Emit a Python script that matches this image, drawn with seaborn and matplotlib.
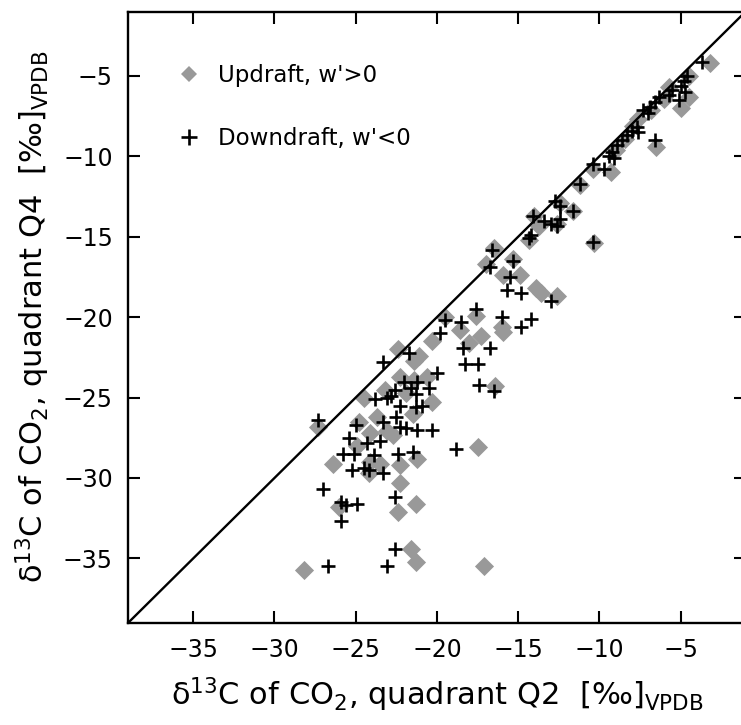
import matplotlib
matplotlib.use("Agg")
import matplotlib.pyplot as plt
import seaborn as sns
import pandas as pd
from matplotlib.lines import Line2D

# Updraft (w'>0): delta13C Q2 (x) vs Q4 (y)
up_x = [-3.2, -4.5, -4.5, -5.0, -5.7, -6.0, -6.5, -8.4, -9.3, -10.4, -11.2, -11.6,
        -12.4, -14.0, -13.7, -12.6, -14.3, -16.5, -17.0, -15.3, -15.9, -14.9, -13.9,
        -13.6, -12.6, -17.6, -16.0, -10.3, -17.3, -15.9, -16.4, -17.1, -6.8, -7.6,
        -7.9, -9.0,
        -19.5, -18.6, -20.3, -18.0, -22.4, -21.1, -21.4, -22.3, -21.4, -20.6, -23.2,
        -21.9, -24.5, -20.3, -21.5, -23.7, -27.3, -24.8, -24.1, -23.1, -22.7, -24.9,
        -17.5, -26.4, -24.1, -23.5, -22.3, -21.2, -24.2, -22.3, -26.0, -21.3, -22.4,
        -21.6, -21.3, -28.2]
up_y = [-4.2, -5.0, -6.3, -7.0, -5.7, -6.4, -9.4, -8.9, -11.0, -10.8, -11.8, -13.4,
        -12.9, -13.7, -14.3, -14.2, -15.2, -15.7, -16.7, -16.4, -17.4, -17.4, -18.2,
        -18.5, -18.7, -19.9, -20.6, -15.4, -21.2, -20.9, -24.3, -35.5, -7.1, -7.7,
        -8.1, -9.6,
        -20.0, -20.8, -21.5, -21.6, -22.0, -22.4, -22.7, -23.7, -23.9, -23.7, -24.5,
        -24.7, -25.0, -25.3, -26.0, -26.2, -26.8, -26.5, -27.2, -27.1, -27.3, -28.0,
        -28.1, -29.1, -29.0, -29.1, -29.2, -28.8, -29.7, -30.3, -31.8, -31.6, -32.1,
        -34.4, -35.2, -35.7]

# Downdraft (w'<0)
down_x = [-3.7, -4.6, -4.8, -5.0, -5.5, -4.7, -5.7, -6.3, -5.1, -6.6, -6.9, -7.3,
          -7.0, -6.6, -7.7, -8.0, -8.3, -7.6, -8.6, -8.9, -9.2, -9.4, -9.1, -9.7,
          -10.4, -11.2, -12.7, -12.4, -11.6, -14.1, -13.4, -13.0, -12.6, -12.4, -14.2,
          -14.3, -10.4, -16.6, -16.7, -15.3, -15.5, -15.7, -14.8, -13.0, -16.0, -14.2,
          -14.8, -16.7, -16.5, -17.4,
          -17.6, -19.5, -18.5, -19.8, -18.4, -21.7, -23.3, -18.3, -17.5, -20.0, -22.0,
          -21.2, -20.5, -22.6, -21.6, -22.8, -23.8, -21.3, -23.1, -22.3, -21.3, -20.9,
          -27.3, -25.0, -23.3, -22.5, -22.3, -21.9, -21.2, -20.3, -25.4, -24.3, -23.5,
          -25.8, -25.1, -23.9, -22.4, -21.5, -18.8, -25.2, -24.5, -24.2, -23.3, -27.0,
          -22.6, -25.9, -25.6, -24.9, -25.9, -22.6, -26.7, -23.1]
down_y = [-4.1, -5.0, -5.3, -5.6, -5.9, -6.0, -6.2, -6.3, -6.5, -6.6, -6.9, -7.1,
          -7.3, -9.0, -8.2, -8.4, -8.7, -8.5, -9.0, -9.3, -9.7, -10.0, -10.1, -10.8,
          -10.5, -11.7, -12.8, -13.1, -13.4, -13.7, -14.0, -14.2, -14.3, -13.9, -14.9,
          -15.1, -15.3, -15.8, -16.9, -16.5, -17.5, -18.3, -18.5, -19.0, -20.0, -20.1,
          -20.6, -21.9, -24.6, -24.2,
          -19.5, -20.2, -20.3, -21.0, -21.9, -22.2, -22.8, -22.9, -22.9, -23.5, -24.0,
          -24.0, -24.4, -24.5, -24.4, -24.9, -25.1, -24.8, -25.0, -25.5, -25.6, -25.5,
          -26.4, -26.7, -26.5, -26.2, -26.8, -26.9, -27.0, -27.0, -27.5, -27.8, -27.7,
          -28.5, -28.5, -28.6, -28.5, -28.4, -28.2, -29.5, -29.4, -29.5, -29.7, -30.7,
          -31.2, -31.5, -31.7, -31.6, -32.7, -34.4, -35.5, -35.5]

labels = ["Updraft, w'>0", "Downdraft, w'<0"]
x_ticks = [-35, -30, -25, -20, -15, -10, -5]
y_ticks = [-35, -30, -25, -20, -15, -10, -5]
lims = (-39, -1)

df_up = pd.DataFrame({"q2": up_x, "q4": up_y})
df_down = pd.DataFrame({"q2": down_x, "q4": down_y})

sns.set_style("ticks")
plt.rcParams["font.family"] = ["DejaVu Sans"]
plt.rcParams["mathtext.fontset"] = "dejavusans"
plt.rcParams["text.color"] = "black"
plt.rcParams["axes.labelcolor"] = "black"
plt.rcParams["xtick.color"] = "black"
plt.rcParams["ytick.color"] = "black"

fig = plt.figure(figsize=(7.41, 7.25), dpi=100)
ax = fig.add_axes([0.1731, 0.1411, 0.833, 0.8428])

gray = "#999999"
sns.scatterplot(data=df_up, x="q2", y="q4", marker="D", color=gray, s=95,
                linewidth=0, ax=ax, zorder=2)
sns.scatterplot(data=df_down, x="q2", y="q4", marker="+", color="black", s=115,
                linewidth=1.9, ax=ax, zorder=3)

ax.axline((lims[0], lims[0]), slope=1, color="black", lw=1.7, zorder=4)

ax.set_xlim(lims)
ax.set_ylim(lims)
ax.set_xticks(x_ticks)
ax.set_yticks(y_ticks)
ax.tick_params(direction="in", length=8.5, width=1.5, labelsize=17,
               top=True, right=True, pad=11, color="black", labelcolor="black")
for sp in ax.spines.values():
    sp.set_linewidth(1.7)
    sp.set_color("black")

ax.set_xlabel(u"\u03b4$^{13}$C of CO$_2$, quadrant Q2  [\u2030]$_{\\mathregular{VPDB}}$",
              fontsize=22, labelpad=10, color="black")
ax.set_ylabel(u"\u03b4$^{13}$C of CO$_2$, quadrant Q4  [\u2030]$_{\\mathregular{VPDB}}$",
              fontsize=22, labelpad=8, color="black")

handles = [
    Line2D([], [], marker="D", color=gray, linestyle="none", markersize=8.5,
           markeredgewidth=0),
    Line2D([], [], marker="+", color="black", linestyle="none", markersize=11,
           markeredgewidth=1.9),
]
leg = ax.legend(handles, labels, loc="upper left", bbox_to_anchor=(0.08, 0.915),
                frameon=False, fontsize=16.5, handlelength=1.0, handletextpad=0.75,
                labelspacing=1.75, borderpad=0, borderaxespad=0)
for t in leg.get_texts():
    t.set_color("black")

fig.savefig("out.png", dpi=100)
